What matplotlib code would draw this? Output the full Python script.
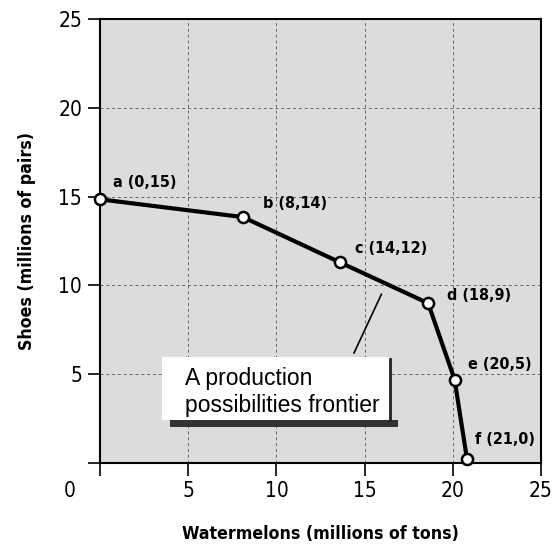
import matplotlib.pyplot as plt
from matplotlib.patches import Rectangle

# 生産可能性フロンティアのデータ
points = ["a", "b", "c", "d", "e", "f"]
watermelons = [0, 8.1, 13.6, 18.6, 20.1, 20.8]
shoes = [14.85, 13.85, 11.3, 9.0, 4.7, 0.25]
point_labels = ["a (0,15)", "b (8,14)", "c (14,12)", "d (18,9)", "e (20,5)", "f (21,0)"]
label_offsets = [(0.74, 0.92), (1.14, 0.79), (0.86, 0.8), (1.07, 0.46), (0.76, 0.82), (0.46, 1.05)]
x_ticks = [0, 5, 10, 15, 20, 25]
y_ticks = [0, 5, 10, 15, 20, 25]
annot_lines = ["A production", "possibilities frontier"]

plt.rcParams['font.family'] = ['DejaVu Sans']
plt.rcParams['font.stretch'] = 'condensed'

fig = plt.figure(figsize=(5.56, 5.46), dpi=100)
ax = fig.add_axes([0.18, 0.152, 0.793, 0.813])
ax.set_facecolor('#dcdcdc')
ax.set_xlim(0, 25)
ax.set_ylim(0, 25)

# 点線のグリッド
for v in x_ticks[1:-1]:
    ax.axvline(v, color='#666666', lw=0.7, ls=(0, (3, 3)), zorder=1)
for v in y_ticks[1:-1]:
    ax.axhline(v, color='#666666', lw=0.7, ls=(0, (3, 3)), zorder=1)

ax.plot(watermelons, shoes, color='black', lw=3, zorder=3,
        marker='o', markersize=8, markerfacecolor='white', markeredgecolor='black',
        markeredgewidth=1.8, clip_on=False)

for x, y, lab, (dx, dy) in zip(watermelons, shoes, point_labels, label_offsets):
    ax.text(x + dx, y + dy, lab, fontsize=11.5, fontweight='bold',
            va='center', ha='left', zorder=4)

# 注釈ボックス(影つき)
ax.add_patch(Rectangle((3.95, 2.03), 12.95, 0.39, facecolor='#333333', edgecolor='none', zorder=4))
ax.add_patch(Rectangle((3.5, 2.42), 12.94, 3.55, facecolor='white', edgecolor='none', zorder=5))
ax.plot([16.44, 16.44], [2.42, 5.85], color='#222222', lw=2, zorder=5)
for i, line in enumerate(annot_lines):
    ax.text(4.82, 4.39 - 1.52 * i, line, fontsize=16.5,
            family='Liberation Sans', stretch='normal',
            va='baseline', ha='left', zorder=6)
ax.plot([14.4, 15.95], [6.2, 9.5], color='black', lw=1.2, zorder=4)

for s in ax.spines.values():
    s.set_linewidth(1.5)

ax.set_xticks(x_ticks)
ax.set_xticklabels([''] + [str(t) for t in x_ticks[1:]])
ax.set_yticks(y_ticks)
ax.set_yticklabels([''] + [str(t) for t in y_ticks[1:]])
ax.tick_params(axis='both', labelsize=15, length=9, width=1.2)
ax.tick_params(axis='x', direction='out', pad=4)
ax.tick_params(axis='y', direction='out', pad=4)
ax.text(-1.7, -1.6, "0", fontsize=15, ha='center', va='center')

ax.set_xlabel("Watermelons (millions of tons)", fontsize=12.7, fontweight='bold', labelpad=17)
ax.set_ylabel("Shoes (millions of pairs)", fontsize=12.7, fontweight='bold', labelpad=16)

fig.savefig("out.png", dpi=100)
